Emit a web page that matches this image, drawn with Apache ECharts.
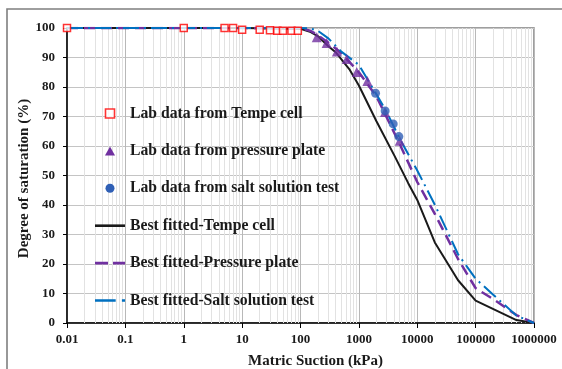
<!DOCTYPE html>
<html><head><meta charset="utf-8">
<script src="https://cdn.jsdelivr.net/npm/echarts@6/dist/echarts.min.js"></script>
<style>html,body{margin:0;padding:0;background:#fff}#c{width:562px;height:369px}</style>
</head><body><div id="c"></div>
<script>
const xTickLabels = ['0.01','0.1','1','10','100','1000','10000','100000','1000000'];
const seriesNames = ['Lab data from Tempe cell','Lab data from pressure plate','Lab data from salt solution test','Best fitted-Tempe cell','Best fitted-Pressure plate','Best fitted-Salt solution test'];

const tempeX = [0.01, 1, 5, 7, 10, 20, 30, 40, 50, 70, 90];
const tempeY = [100, 100, 100, 100, 99.4, 99.4, 99.2, 99.1, 99.1, 99.1, 99.1];

const plateX = [190, 280, 420, 620, 920, 1400, 2800, 5000];
const plateY = [96.9, 94.9, 92.0, 89.5, 85.1, 82.0, 71.5, 61.8];

const saltX = [1930, 2820, 3870, 4840];
const saltY = [77.9, 71.9, 67.5, 63.2];

const tempeFitX = [0.01, 1, 10, 100, 150, 200, 300, 400, 700, 1000, 2000, 4000, 7000, 10000, 20000, 50000, 100000, 500000, 1000000];
const tempeFitY = [100, 100, 100, 99.7, 98.6, 97.2, 93.8, 91.8, 85.8, 80.5, 68.4, 57.0, 47.4, 41.7, 27.3, 14.5, 7.6, 1.0, 0];

const plateFitX = [0.01, 1, 10, 100, 150, 200, 300, 500, 1000, 2000, 5000, 10000, 20000, 50000, 100000, 200000, 500000, 1000000];
const plateFitY = [100, 100, 100, 100, 99, 97.5, 95, 91.5, 85, 76.8, 60.7, 47.8, 37, 21.7, 11.8, 8.1, 2.7, 0];

const saltFitX = [0.01, 1, 10, 100, 150, 200, 300, 500, 1000, 2000, 3000, 5000, 10000, 20000, 50000, 100000, 200000, 500000, 1000000];
const saltFitY = [100, 100, 100, 100, 99.8, 99, 96.5, 92, 87.5, 77.5, 71.5, 62.5, 51.7, 40.1, 23.3, 15, 9.6, 2.5, 0];

const minorMult = [2,3,4,5,6,7,8,9];
const minorLines = [];
for (let e = -2; e < 6; e++) for (const m of minorMult) minorLines.push({xAxis: m * Math.pow(10, e)});

const zip = (a, b) => a.map((v, i) => [v, b[i]]);
const font = "'Liberation Serif','Times New Roman',serif";

const icons = {
  square: 'path://M0,0 L10,0 L10,10 L0,10 Z',
  triangle: 'path://M5,0 L10,9 L0,9 Z',
  circle: 'path://M5,0 A5,5 0 1,1 4.99,0 Z',
  solid: 'path://M0,0 L30,0 L30,2.6 L0,2.6 Z',
  dashed: 'path://M0,0 L13,0 L13,2.6 L0,2.6 Z M18,0 L30,0 L30,2.6 L18,2.6 Z',
  dashDot: 'path://M0,0 L20,0 L20,2.6 L0,2.6 Z M26,0 L29,0 L29,2.6 L26,2.6 Z'
};
const plain = c => ({color: c, borderColor: c, borderWidth: 0, borderType: 'solid', decal: 'none', opacity: 1});
const plainLine = c => ({color: c, width: 0, type: 'solid', opacity: 1});

const chart = echarts.init(document.getElementById('c'), null, {renderer: 'canvas'});
chart.setOption({
  animation: false,
  backgroundColor: '#fff',
  graphic: [{type: 'rect', shape: {x: 7, y: 9, width: 700, height: 500}, style: {fill: 'none', stroke: '#7f7f7f', lineWidth: 1.6}, silent: true, z: 0}],
  grid: {left: 67, right: 28, top: 28, bottom: 46, show: true, borderColor: '#7f7f7f', borderWidth: 1.5, backgroundColor: 'transparent', outerBoundsMode: 'none', containLabel: false},
  legend: {
    data: [
      {name: seriesNames[0], icon: icons.square, itemStyle: {color: '#fff', borderColor: '#ff0000', borderWidth: 1.6, borderType: 'solid'}},
      {name: seriesNames[1], icon: icons.triangle, itemStyle: plain('#7030a0')},
      {name: seriesNames[2], icon: icons.circle, itemStyle: plain('#2f5fb5')},
      {name: seriesNames[3], icon: icons.solid, itemStyle: plain('#1a1a1a'), lineStyle: plainLine('#1a1a1a')},
      {name: seriesNames[4], icon: icons.dashed, itemStyle: plain('#7030a0'), lineStyle: plainLine('#7030a0')},
      {name: seriesNames[5], icon: icons.dashDot, itemStyle: plain('#0070c0'), lineStyle: plainLine('#0070c0')}
    ],
    orient: 'vertical', left: 95, top: 105.5, padding: 0, itemGap: 21.4, itemWidth: 30, itemHeight: 9,
    symbolKeepAspect: true, z: 10,
    textStyle: {fontFamily: font, fontWeight: 'bold', fontSize: 15.7, color: '#1a1a1a'},
    backgroundColor: 'transparent'
  },
  xAxis: {
    type: 'log', logBase: 10, min: 0.01, max: 1000000,
    name: 'Matric Suction (kPa)', nameLocation: 'middle', nameGap: 31, nameMoveOverlap: false,
    nameTextStyle: {fontFamily: font, fontWeight: 'bold', fontSize: 15, color: '#1a1a1a', padding: [0, 0, 0, 30]},
    axisLine: {lineStyle: {color: '#000', width: 1.5}},
    axisTick: {show: true, length: 5, lineStyle: {color: '#000'}},
    axisLabel: {fontFamily: font, fontWeight: 'bold', fontSize: 13, color: '#1a1a1a', margin: 10,
      formatter: v => { const i = Math.round(Math.log10(v)) + 2; return xTickLabels[i] || ''; }},
    splitLine: {show: true, lineStyle: {color: '#b8b8b8', width: 1}}
  },
  yAxis: {
    type: 'value', min: 0, max: 100, interval: 10,
    name: 'Degree of saturation (%)', nameLocation: 'middle', nameGap: 35, nameMoveOverlap: false,
    nameTextStyle: {fontFamily: font, fontWeight: 'bold', fontSize: 15, color: '#1a1a1a', padding: [0, 6, 0, 0]},
    axisLine: {show: true, lineStyle: {color: '#000', width: 1.5}},
    axisTick: {show: true, length: 4, lineStyle: {color: '#000'}},
    axisLabel: {fontFamily: font, fontWeight: 'bold', fontSize: 13, color: '#1a1a1a', margin: 12},
    splitLine: {show: true, lineStyle: {color: '#c4c4c4', width: 1}}
  },
  series: [
    {name: 'minor', type: 'line', data: [], z: 1, silent: true,
      markLine: {silent: true, z: 1, symbol: 'none', label: {show: false}, animation: false,
        lineStyle: {color: '#e2e2e2', width: 1, type: 'solid'}, data: minorLines}},
    {name: seriesNames[3], type: 'line', data: zip(tempeFitX, tempeFitY), symbol: 'none', z: 3,
      lineStyle: {color: '#1a1a1a', width: 2}, itemStyle: {color: '#1a1a1a'}},
    {name: seriesNames[4], type: 'line', data: zip(plateFitX, plateFitY), symbol: 'none', z: 4,
      lineStyle: {color: '#7030a0', width: 2.5, type: [11, 6]}, itemStyle: {color: '#7030a0'}},
    {name: seriesNames[5], type: 'line', data: zip(saltFitX, saltFitY), symbol: 'none', z: 5,
      lineStyle: {color: '#0070c0', width: 2, type: [16, 5, 2, 5]}, itemStyle: {color: '#0070c0'}},
    {name: seriesNames[0], type: 'scatter', data: zip(tempeX, tempeY), symbol: 'rect', symbolSize: 7, z: 6,
      itemStyle: {color: '#fff', borderColor: '#ff0000', borderWidth: 1.5}},
    {name: seriesNames[1], type: 'scatter', data: zip(plateX, plateY), symbol: 'triangle', symbolSize: 10, z: 6,
      itemStyle: {color: '#7030a0'}},
    {name: seriesNames[2], type: 'scatter', data: zip(saltX, saltY), symbol: 'circle', symbolSize: 9, z: 7,
      itemStyle: {color: '#2f5fb5'}}
  ]
});
</script></body></html>
